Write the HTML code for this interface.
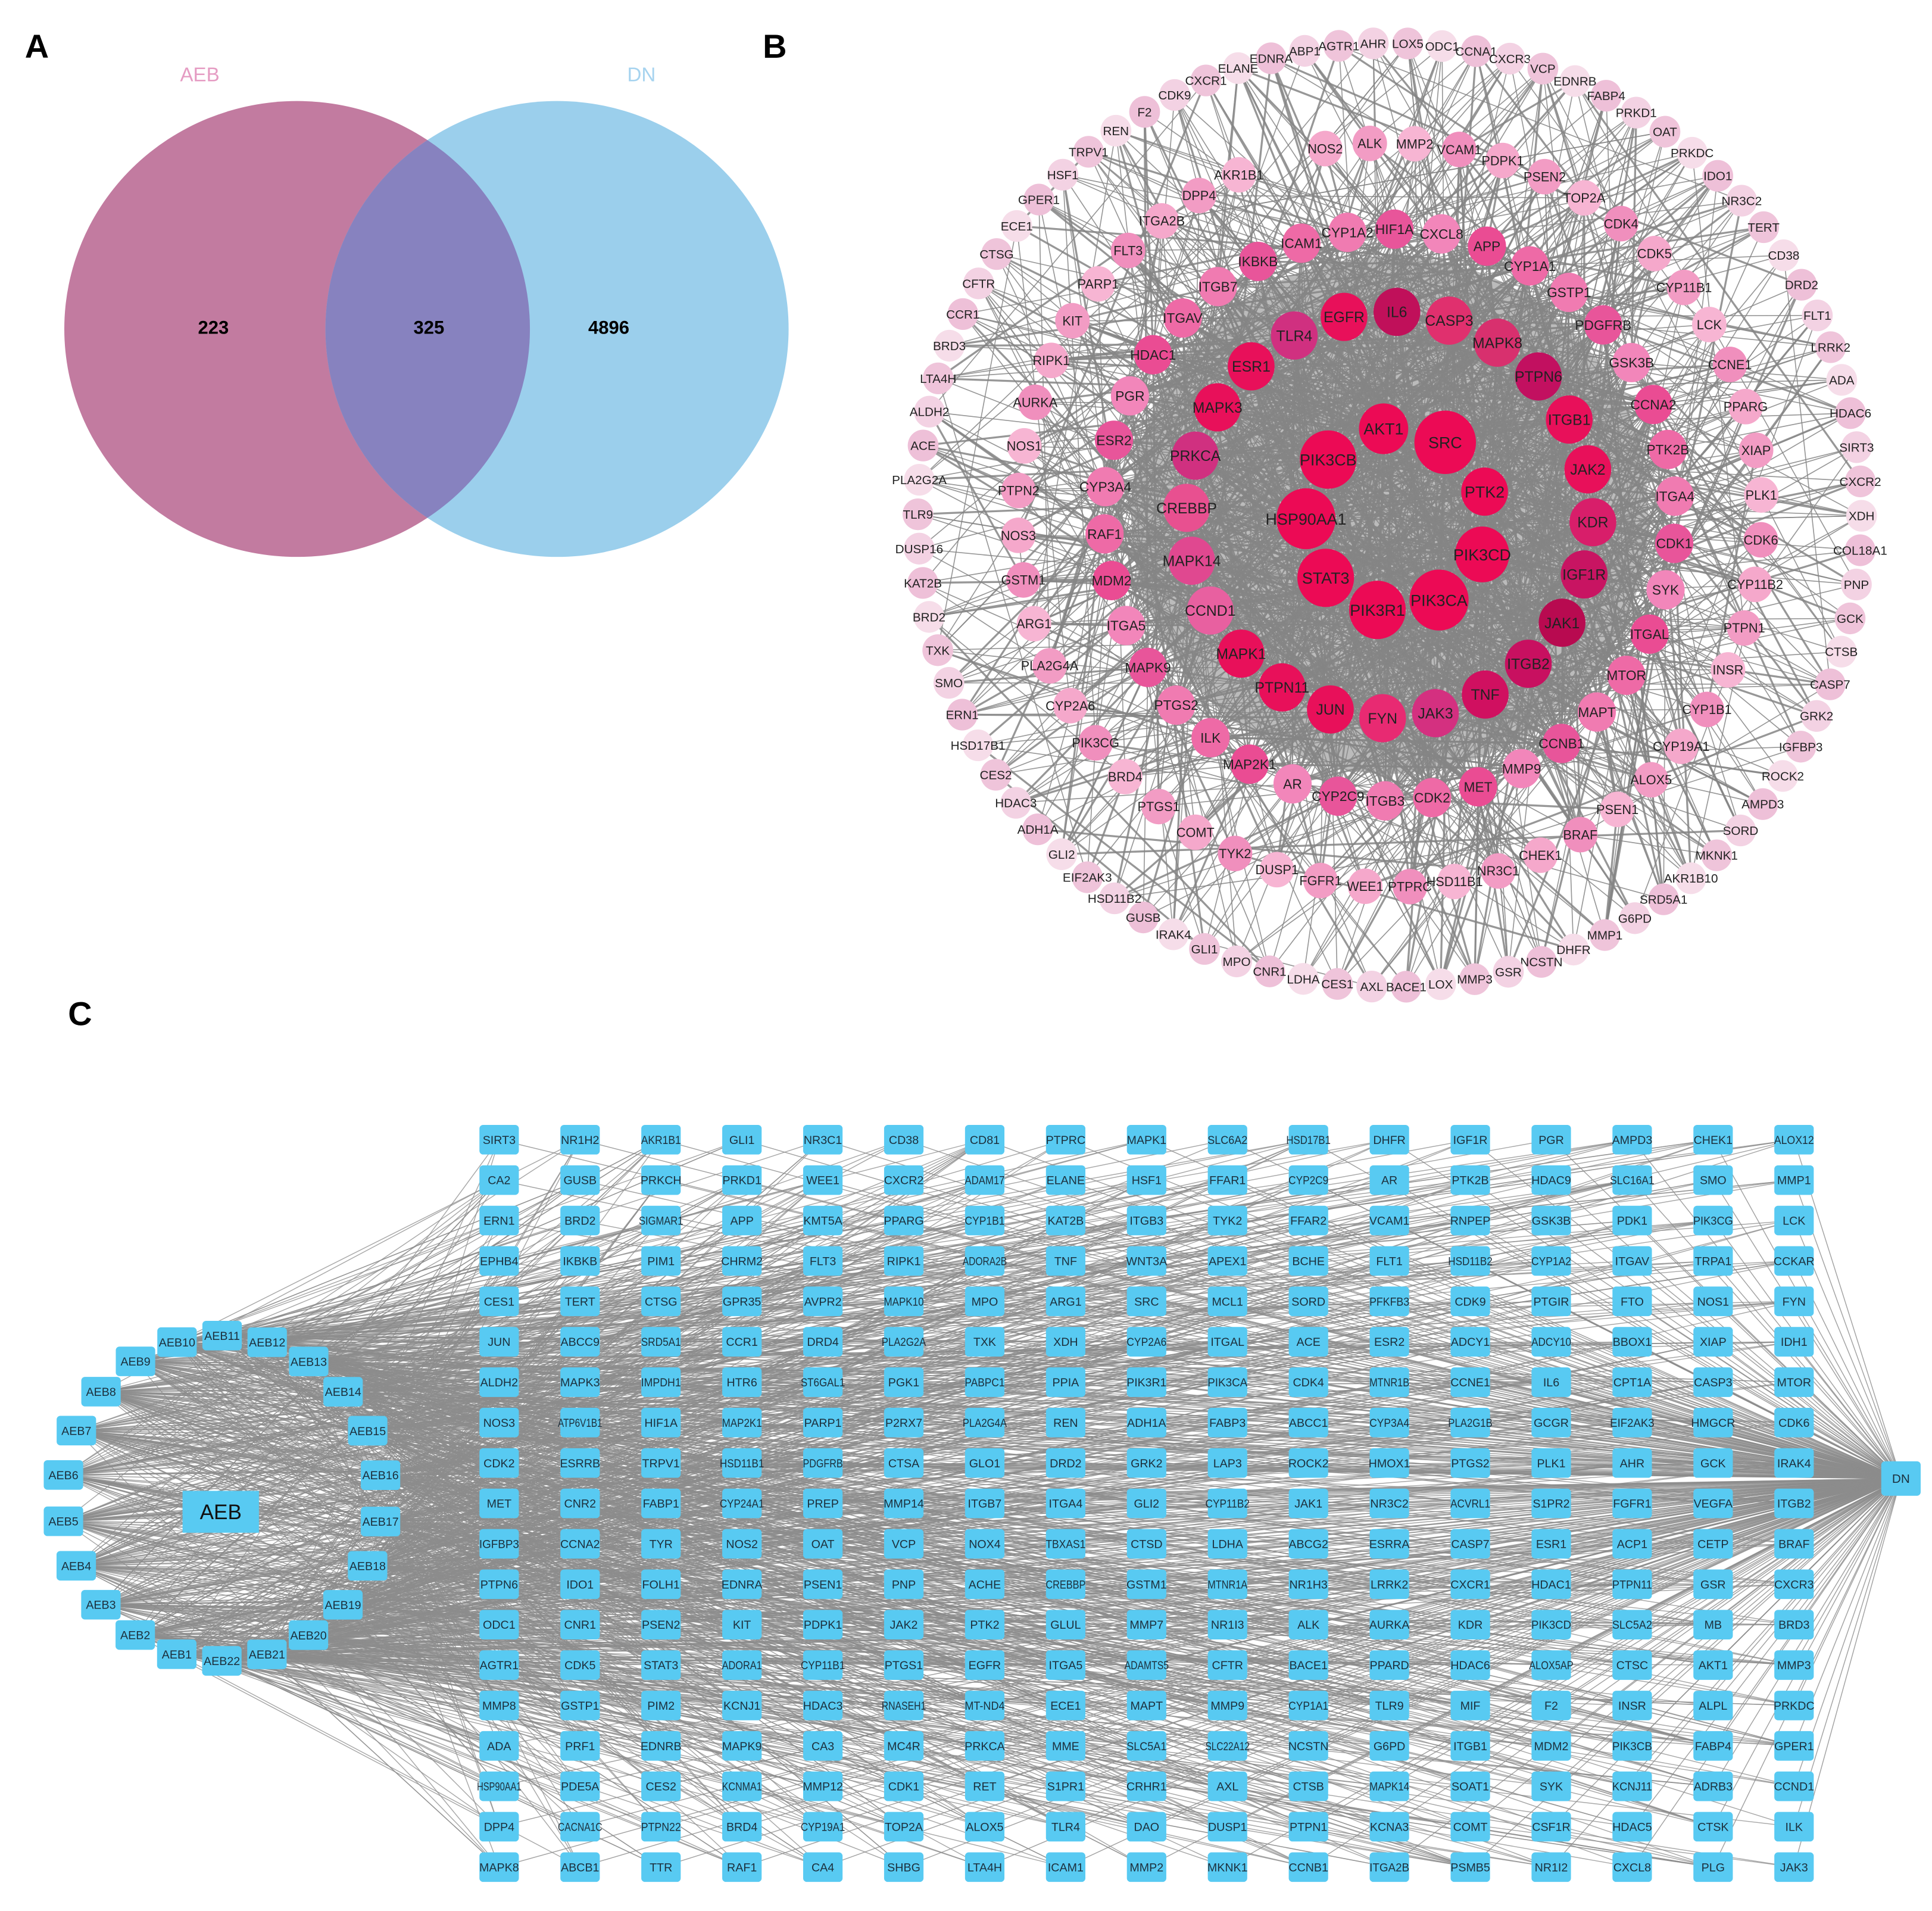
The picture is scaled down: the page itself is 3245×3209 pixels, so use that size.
<!DOCTYPE html>
<html><head><meta charset="utf-8">
<style>
html,body{margin:0;padding:0;background:#fff;}
svg{display:block;}
text{font-family:"Liberation Sans",Arial,sans-serif;}
</style></head>
<body>
<svg id="s" width="3245" height="3209" viewBox="0 0 1568 1551" xmlns="http://www.w3.org/2000/svg">
<defs><clipPath id="lc"><ellipse cx="241" cy="267" rx="189" ry="185"/></clipPath></defs>
<rect width="1568" height="1551" fill="#fff"/>
<!-- Panel A -->
<text x="20" y="47" font-size="27" font-weight="bold">A</text>
<text x="146" y="66" font-size="16" fill="#e59cc3">AEB</text>
<text x="509" y="66" font-size="16" fill="#a6d3ef">DN</text>
<ellipse cx="241" cy="267" rx="189" ry="185" fill="#c27ba0"/>
<ellipse cx="452" cy="267" rx="188" ry="185" fill="#9bcfec"/>
<ellipse cx="452" cy="267" rx="188" ry="185" fill="#8782bf" clip-path="url(#lc)"/>
<text x="173" y="271" font-size="15" font-weight="bold" text-anchor="middle">223</text>
<text x="348" y="271" font-size="15" font-weight="bold" text-anchor="middle">325</text>
<text x="494" y="271" font-size="15" font-weight="bold" text-anchor="middle">4896</text>
<!-- Panel labels -->
<text x="619" y="47" font-size="27" font-weight="bold">B</text>
<text x="55" y="832" font-size="27" font-weight="bold">C</text>
<g id="bLines"></g>
<g id="bNodes"></g>
<g id="cLines"></g>
<g id="cNodes"></g>
</svg>
<script>
(function(){
var NS="http://www.w3.org/2000/svg";
var seed=12345;function rnd(){seed=(seed*1103515245+12345)%2147483648;return seed/2147483648;}
function el(p,t,a,txt){var e=document.createElementNS(NS,t);for(var k in a)e.setAttribute(k,a[k]);if(txt!==undefined)e.textContent=txt;p.appendChild(e);return e;}
// ---------- Panel B ----------
var bL=document.getElementById('bLines'),bN=document.getElementById('bNodes');
var cx=1128,cy=418,nodes=[];
function ring(list,r,start,span,rad,fs,cols,w){
 for(var i=0;i<list.length;i++){var a=(start+span*i/list.length)*Math.PI/180;
  nodes.push({x:cx+r*Math.cos(a),y:cy+r*Math.sin(a),r:rad,l:list[i],c:cols[i%cols.length],fs:fs,w:w});}
}
var outer="AHR LOX5 ODC1 CCNA1 CXCR3 VCP EDNRB FABP4 PRKD1 OAT PRKDC IDO1 NR3C2 TERT CD38 DRD2 FLT1 LRRK2 ADA HDAC6 SIRT3 CXCR2 XDH COL18A1 PNP GCK CTSB CASP7 GRK2 IGFBP3 ROCK2 AMPD3 SORD MKNK1 AKR1B10 SRD5A1 G6PD MMP1 DHFR NCSTN GSR MMP3 LOX BACE1 AXL CES1 LDHA CNR1 MPO GLI1 IRAK4 GUSB HSD11B2 EIF2AK3 GLI2 ADH1A HDAC3 CES2 HSD17B1 ERN1 SMO TXK BRD2 KAT2B DUSP16 TLR9 PLA2G2A ACE ALDH2 LTA4H BRD3 CCR1 CFTR CTSG ECE1 GPER1 HSF1 TRPV1 REN F2 CDK9 CXCR1 ELANE EDNRA ABP1 AGTR1".split(' ');
ring(outer,383,-92,360,12.5,10,["#f3d2e3","#efc4da","#f6dde9","#eec0d8"],1);
var r2="NOS2 ALK MMP2 VCAM1 PDPK1 PSEN2 TOP2A CDK4 CDK5 CYP11B1 LCK CCNE1 PPARG XIAP PLK1 CDK6 CYP11B2 PTPN1 INSR CYP1B1 CYP19A1 ALOX5 PSEN1 BRAF CHEK1 NR3C1 HSD11B1 PTPRC WEE1 FGFR1 DUSP1 TYK2 COMT PTGS1 BRD4 PIK3CG CYP2A6 PLA2G4A ARG1 GSTM1 NOS3 PTPN2 NOS1 AURKA RIPK1 KIT PARP1 FLT3 ITGA2B DPP4 AKR1B1".split(' ');
ring(r2,302,-100,353,14,10.5,["#f5a8cb","#f29cc4","#f7b5d3","#f08fbd"],2);
var r3="ICAM1 CYP1A2 HIF1A CXCL8 APP CYP1A1 GSTP1 PDGFRB GSK3B CCNA2 PTK2B ITGA4 CDK1 SYK ITGAL MTOR MAPT CCNB1 MMP9 MET CDK2 ITGB3 CYP2C9 AR MAP2K1 ILK PTGS2 MAPK9 ITGA5 MDM2 RAF1 CYP3A4 ESR2 PGR HDAC1 ITGAV ITGB7 IKBKB".split(' ');
ring(r3,232,-108,360,15.5,11,["#ee6aa6","#f07bb1","#e8559a","#f286ba","#ea4c93"],3);
var r4="EGFR IL6 CASP3 MAPK8 PTPN6 ITGB1 JAK2 KDR IGF1R JAK1 ITGB2 TNF JAK3 FYN JUN PTPN11 MAPK1 CCND1 MAPK14 CREBBP PRKCA MAPK3 ESR1 TLR4".split(' ');
var c4=["#e8105a","#c0105a","#e0306e","#d8306e","#c21060","#e8105a","#e8105a","#d81e6a","#c81462","#b80a50","#c81060","#d01060","#d43080","#e82a72","#e8105a","#e8105a","#e8105a","#e860a0","#e04890","#e85090","#d03080","#e8105a","#e8105a","#d03080"];
ring(r4,165,-103,360,19,12,c4,4);
var ctr=[["AKT1",1123,348,20],["SRC",1173,359,25],["PIK3CB",1078,373,23],["PTK2",1205,399,19],["HSP90AA1",1060,421,24],["PIK3CD",1203,450,22],["STAT3",1076,469,23],["PIK3R1",1118,495,23],["PIK3CA",1168,487,24]];
ctr.forEach(function(c){nodes.push({x:c[1],y:c[2],r:c[3],l:c[0],c:"#ec0a55",fs:13,w:5});});
el(bL,'circle',{cx:cx,cy:cy,r:210,fill:'#8e8e8e',opacity:0.6});
var deg={1:3,2:6,3:11,4:20,5:34};
var inner=nodes.filter(function(n){return n.w>=3;});
nodes.forEach(function(n){
 for(var k=0;k<deg[n.w];k++){
  var t=(rnd()<0.6)?inner[Math.floor(rnd()*inner.length)]:nodes[Math.floor(rnd()*nodes.length)];
  if(t===n)continue;
  el(bL,'line',{x1:n.x.toFixed(1),y1:n.y.toFixed(1),x2:t.x.toFixed(1),y2:t.y.toFixed(1),stroke:'#858585','stroke-width':(rnd()<0.3?1.6:0.8),opacity:0.85});
 }
});
nodes.forEach(function(n){
 el(bN,'ellipse',{cx:n.x.toFixed(1),cy:n.y.toFixed(1),rx:n.r,ry:n.r*1.03,fill:n.c});
 el(bN,'text',{x:n.x.toFixed(1),y:(n.y+n.fs*0.36).toFixed(1),'font-size':n.fs,'text-anchor':'middle',fill:'#222'},n.l);
});
// ---------- Panel C ----------
var cL=document.getElementById('cLines'),cN=document.getElementById('cNodes');
var cols=[
"SIRT3 CA2 ERN1 EPHB4 CES1 JUN ALDH2 NOS3 CDK2 MET IGFBP3 PTPN6 ODC1 AGTR1 MMP8 ADA HSP90AA1 DPP4 MAPK8",
"NR1H2 GUSB BRD2 IKBKB TERT ABCC9 MAPK3 ATP6V1B1 ESRRB CNR2 CCNA2 IDO1 CNR1 CDK5 GSTP1 PRF1 PDE5A CACNA1C ABCB1",
"AKR1B1 PRKCH SIGMAR1 PIM1 CTSG SRD5A1 IMPDH1 HIF1A TRPV1 FABP1 TYR FOLH1 PSEN2 STAT3 PIM2 EDNRB CES2 PTPN22 TTR",
"GLI1 PRKD1 APP CHRM2 GPR35 CCR1 HTR6 MAP2K1 HSD11B1 CYP24A1 NOS2 EDNRA KIT ADORA1 KCNJ1 MAPK9 KCNMA1 BRD4 RAF1",
"NR3C1 WEE1 KMT5A FLT3 AVPR2 DRD4 ST6GAL1 PARP1 PDGFRB PREP OAT PSEN1 PDPK1 CYP11B1 HDAC3 CA3 MMP12 CYP19A1 CA4",
"CD38 CXCR2 PPARG RIPK1 MAPK10 PLA2G2A PGK1 P2RX7 CTSA MMP14 VCP PNP JAK2 PTGS1 RNASEH1 MC4R CDK1 TOP2A SHBG",
"CD81 ADAM17 CYP1B1 ADORA2B MPO TXK PABPC1 PLA2G4A GLO1 ITGB7 NOX4 ACHE PTK2 EGFR MT-ND4 PRKCA RET ALOX5 LTA4H",
"PTPRC ELANE KAT2B TNF ARG1 XDH PPIA REN DRD2 ITGA4 TBXAS1 CREBBP GLUL ITGA5 ECE1 MME S1PR1 TLR4 ICAM1",
"MAPK1 HSF1 ITGB3 WNT3A SRC CYP2A6 PIK3R1 ADH1A GRK2 GLI2 CTSD GSTM1 MMP7 ADAMTS5 MAPT SLC5A1 CRHR1 DAO MMP2",
"SLC6A2 FFAR1 TYK2 APEX1 MCL1 ITGAL PIK3CA FABP3 LAP3 CYP11B2 LDHA MTNR1A NR1I3 CFTR MMP9 SLC22A12 AXL DUSP1 MKNK1",
"HSD17B1 CYP2C9 FFAR2 BCHE SORD ACE CDK4 ABCC1 ROCK2 JAK1 ABCG2 NR1H3 ALK BACE1 CYP1A1 NCSTN CTSB PTPN1 CCNB1",
"DHFR AR VCAM1 FLT1 PFKFB3 ESR2 MTNR1B CYP3A4 HMOX1 NR3C2 ESRRA LRRK2 AURKA PPARD TLR9 G6PD MAPK14 KCNA3 ITGA2B",
"IGF1R PTK2B RNPEP HSD11B2 CDK9 ADCY1 CCNE1 PLA2G1B PTGS2 ACVRL1 CASP7 CXCR1 KDR HDAC6 MIF ITGB1 SOAT1 COMT PSMB5",
"PGR HDAC9 GSK3B CYP1A2 PTGIR ADCY10 IL6 GCGR PLK1 S1PR2 ESR1 HDAC1 PIK3CD ALOX5AP F2 MDM2 SYK CSF1R NR1I2",
"AMPD3 SLC16A1 PDK1 ITGAV FTO BBOX1 CPT1A EIF2AK3 AHR FGFR1 ACP1 PTPN11 SLC5A2 CTSC INSR PIK3CB KCNJ11 HDAC5 CXCL8",
"CHEK1 SMO PIK3CG TRPA1 NOS1 XIAP CASP3 HMGCR GCK VEGFA CETP GSR MB AKT1 ALPL FABP4 ADRB3 CTSK PLG",
"ALOX12 MMP1 LCK CCKAR FYN IDH1 MTOR CDK6 IRAK4 ITGB2 BRAF CXCR3 BRD3 MMP3 PRKDC GPER1 CCND1 ILK JAK3"];
var boxes=[];
cols.forEach(function(c,i){c.split(' ').forEach(function(l,j){boxes.push({x:405+i*65.7,y:925+j*32.8,l:l});});});
var aeb=[];
for(var i=0;i<22;i++){
 var ang=(106.4+ i*360/22)*Math.PI/180;
 aeb.push({x:180+130*Math.cos(ang),y:1216+132*Math.sin(ang),l:"AEB"+(i+1)});
}
var DN={x:1543,y:1200};
aeb.forEach(function(n){
 for(var k=0;k<70;k++){var t=boxes[Math.floor(rnd()*boxes.length)];
  el(cL,'line',{x1:n.x.toFixed(1),y1:n.y.toFixed(1),x2:t.x.toFixed(1),y2:t.y.toFixed(1),stroke:'#8c8c8c','stroke-width':0.7,opacity:0.75});}
});
boxes.forEach(function(b){
 el(cL,'line',{x1:b.x.toFixed(1),y1:b.y.toFixed(1),x2:DN.x,y2:DN.y,stroke:'#8c8c8c','stroke-width':0.7,opacity:0.8});
});
function box(x,y,w,h,l,fs){
 el(cN,'rect',{x:(x-w/2).toFixed(1),y:(y-h/2).toFixed(1),width:w,height:h,rx:3,fill:'#58caf2'});
 var a={x:x.toFixed(1),y:(y+fs*0.36).toFixed(1),'font-size':fs,'text-anchor':'middle',fill:'#1c2f3c'};
 if(l.length>5){a.textLength=Math.min(w+4,l.length*5.4);a.lengthAdjust='spacingAndGlyphs';}
 el(cN,'text',a,l);
}
boxes.forEach(function(b){box(b.x,b.y,32,24,b.l,9.5);});
aeb.forEach(function(n){box(n.x,n.y,32,24,n.l,9.5);});
el(cN,'rect',{x:148,y:1210,width:62,height:34,fill:'#58caf2'});
el(cN,'text',{x:179,y:1233,'font-size':17,'text-anchor':'middle',fill:'#111'},"AEB");
box(DN.x,DN.y,32,28,"DN",10);
})();
</script>
</body></html>
